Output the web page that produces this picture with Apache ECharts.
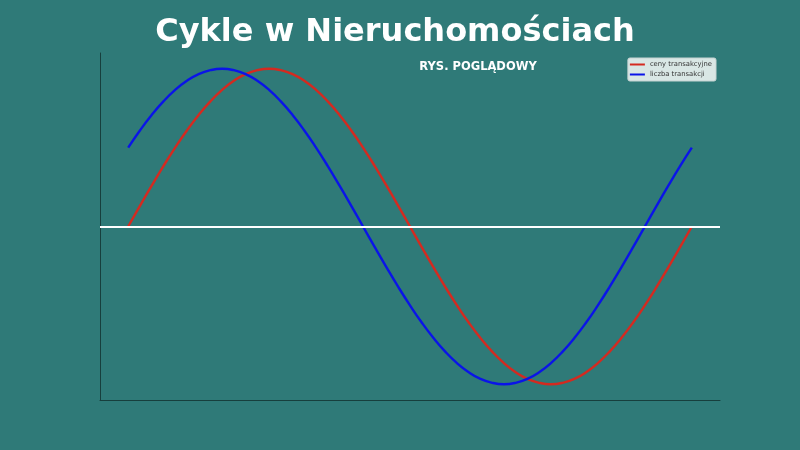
<!DOCTYPE html>
<html>
<head>
<meta charset="utf-8">
<script src="https://cdn.jsdelivr.net/npm/echarts@6/dist/echarts.min.js"></script>
<style>
html,body{margin:0;padding:0;background:#2f7a78;}
#c{width:800px;height:450px;}
</style>
</head>
<body>
<div id="c"></div>
<script>
// Sample positions (phase steps of 7.5 degrees over one full cycle)
const steps = [0,1,2,3,4,5,6,7,8,9,10,11,12,13,14,15,16,17,18,19,20,21,22,23,24,25,26,27,28,29,30,31,32,33,34,35,36,37,38,39,40,41,42,43,44,45,46,47,48];
// ceny transakcyjne (red)
const prices = [0,0.131,0.259,0.383,0.5,0.609,0.707,0.793,0.866,0.924,0.966,0.991,1,0.991,0.966,0.924,0.866,0.793,0.707,0.609,0.5,0.383,0.259,0.131,0,-0.131,-0.259,-0.383,-0.5,-0.609,-0.707,-0.793,-0.866,-0.924,-0.966,-0.991,-1,-0.991,-0.966,-0.924,-0.866,-0.793,-0.707,-0.609,-0.5,-0.383,-0.259,-0.131,0];
// liczba transakcji (blue)
const volume = [0.5,0.609,0.707,0.793,0.866,0.924,0.966,0.991,1,0.991,0.966,0.924,0.866,0.793,0.707,0.609,0.5,0.383,0.259,0.131,0,-0.131,-0.259,-0.383,-0.5,-0.609,-0.707,-0.793,-0.866,-0.924,-0.966,-0.991,-1,-0.991,-0.966,-0.924,-0.866,-0.793,-0.707,-0.609,-0.5,-0.383,-0.259,-0.131,0,0.131,0.259,0.383,0.5];
const seriesNames = ['ceny transakcyjne','liczba transakcji'];
const titleText = 'Cykle w Nieruchomościach';
const subtitleText = 'RYS. POGLĄDOWY';

const chart = echarts.init(document.getElementById('c'));
chart.setOption({
  backgroundColor: '#2f7a78',
  animation: false,
  title: [{
    text: titleText,
    left: 390, top: 12, textAlign: 'center',
    textStyle: {color:'#ffffff', fontFamily:'DejaVu Sans', fontWeight:'bold', fontSize:32}
  },{
    text: subtitleText,
    left: 473, top: 56, textAlign: 'center',
    textStyle: {color:'#ffffff', fontFamily:'DejaVu Sans', fontWeight:'bold', fontSize:11.5}
  }],
  legend: {
    data: seriesNames,
    orient: 'vertical',
    right: 84, top: 58,
    backgroundColor: 'rgba(232,240,239,0.92)',
    borderColor: '#c6d3d2', borderWidth: 1, borderRadius: 2,
    padding: [3,4,3,2],
    itemGap: 3,
    itemWidth: 15, itemHeight: 2,
    icon: 'rect',
    textStyle: {fontSize: 6.8, color:'#333', fontFamily:'DejaVu Sans'}
  },
  grid: {left:100, right:80, top:53, bottom:50},
  xAxis: {
    type:'value', min:-2.4, max:50.4,
    axisLine:{show:true, onZero:false, lineStyle:{color:'#173f3d', width:1}},
    axisTick:{show:false}, axisLabel:{show:false}, splitLine:{show:false}
  },
  yAxis: {
    type:'value', min:-1.1, max:1.1,
    axisLine:{show:true, onZero:false, lineStyle:{color:'#173f3d', width:1}},
    axisTick:{show:false}, axisLabel:{show:false}, splitLine:{show:false}
  },
  series: [{
    name: seriesNames[0], type:'line', showSymbol:false, smooth:true,
    data: steps.map((s,i)=>[s, prices[i]]),
    lineStyle:{color:'#d42a20', width:2.4}, itemStyle:{color:'#d42a20'},
    z: 3,
    markLine: {
      symbol:'none', silent:true, label:{show:false},
      lineStyle:{color:'#ffffff', width:2, type:'solid'},
      data:[{yAxis:0}]
    }
  },{
    name: seriesNames[1], type:'line', showSymbol:false, smooth:true,
    data: steps.map((s,i)=>[s, volume[i]]),
    lineStyle:{color:'#0a14e8', width:2.4}, itemStyle:{color:'#0a14e8'},
    z: 4
  }]
});
</script>
</body>
</html>
